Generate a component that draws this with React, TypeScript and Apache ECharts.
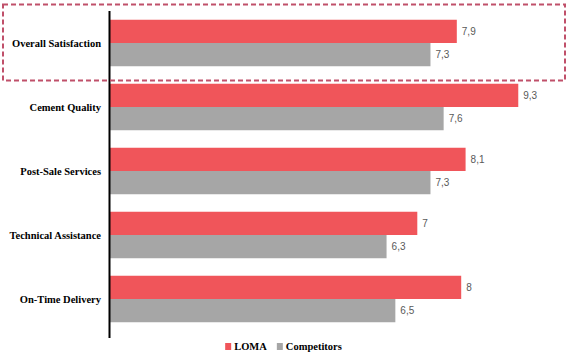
import React, { useEffect, useRef } from "react";
import * as echarts from "echarts";

const categories = [
  "Overall Satisfaction",
  "Cement Quality",
  "Post-Sale Services",
  "Technical Assistance",
  "On-Time Delivery",
];
const lomaValues = [7.9, 9.3, 8.1, 7, 8];
const competitorValues = [7.3, 7.6, 7.3, 6.3, 6.5];
const seriesNames = ["LOMA", "Competitors"];

const fmt = (v: number) => String(v).replace(".", ",");
const SERIF = "Liberation Serif";

export default function App() {
  const ref = useRef<HTMLDivElement>(null);
  useEffect(() => {
    if (!ref.current) return;
    const chart = echarts.init(ref.current, undefined, { renderer: "svg" });
    const labelStyle = {
      show: true,
      position: "right" as const,
      distance: 5,
      color: "#595959",
      fontFamily: "Liberation Sans",
      fontSize: 10,
      formatter: (p: any) => fmt(p.value),
    };
    chart.setOption({
      animation: false,
      backgroundColor: "#ffffff",
      grid: { left: 110, right: 18, top: 11, height: 320, containLabel: false },
      xAxis: {
        type: "value",
        min: 0,
        max: 10,
        show: false,
      },
      yAxis: {
        type: "category",
        data: categories,
        inverse: true,
        axisLine: { show: false },
        axisTick: { show: false },
        splitLine: { show: false },
        axisLabel: {
          color: "#000000",
          fontFamily: SERIF,
          fontWeight: "bold",
          fontSize: 10.5,
          margin: 9,
        },
      },
      legend: {
        data: seriesNames,
        bottom: 2,
        left: "center",
        itemWidth: 6,
        itemHeight: 7,
        itemGap: 10,
        icon: "rect",
        textStyle: {
          color: "#000000",
          fontFamily: SERIF,
          fontWeight: "bold",
          fontSize: 10.5,
          padding: [0, 0, 0, -2],
        },
      },
      series: [
        {
          name: seriesNames[0],
          type: "bar",
          data: lomaValues,
          itemStyle: { color: "#f0555a" },
          barGap: "0%",
          barCategoryGap: "27%",
          label: labelStyle,
        },
        {
          name: seriesNames[1],
          type: "bar",
          data: competitorValues,
          itemStyle: { color: "#a6a6a6" },
          barGap: "0%",
          barCategoryGap: "27%",
          label: labelStyle,
        },
      ],
      graphic: [
        {
          type: "line",
          shape: { x1: 109.5, y1: 11, x2: 109.5, y2: 338 },
          style: { stroke: "#000000", lineWidth: 2 },
          z: 10,
        },
        {
          type: "rect",
          shape: { x: 3, y: 4.5, width: 562, height: 76 },
          style: {
            fill: "none",
            stroke: "#c0506a",
            lineWidth: 2,
            lineDash: [5, 3],
          },
          z: 10,
        },
      ],
    });
    return () => chart.dispose();
  }, []);
  return (
    <div
      ref={ref}
      style={{ position: "fixed", left: 0, top: 0, width: 567, height: 359 }}
    />
  );
}
